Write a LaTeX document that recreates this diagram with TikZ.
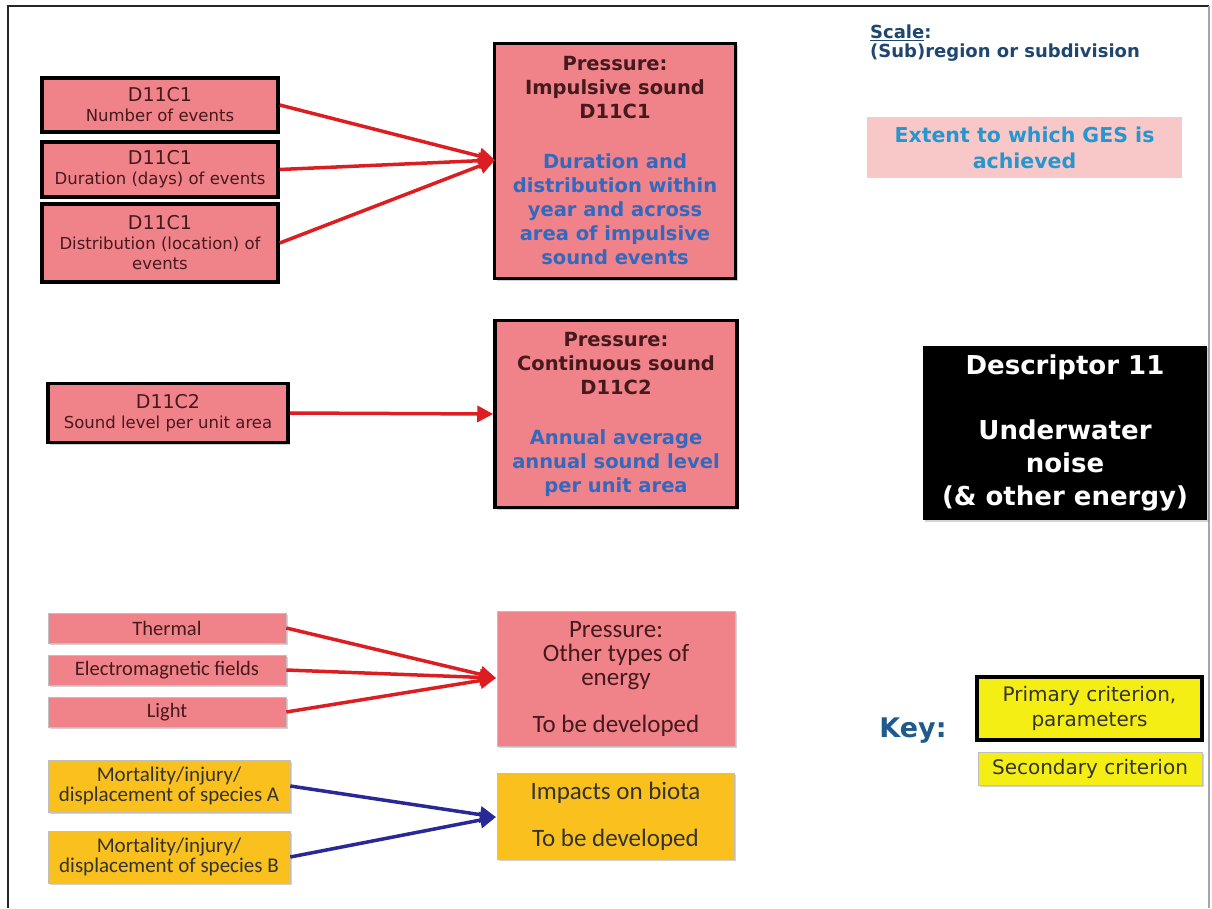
\documentclass[tikz,border=0pt]{standalone}
\usepackage{fontspec}
\setmainfont{DejaVu Sans}
\newfontfamily\cond{Carlito}
\usetikzlibrary{arrows.meta,shadows}
\definecolor{pinkfill}{RGB}{240,130,138}
\definecolor{gesfill}{RGB}{248,200,200}
\definecolor{orangefill}{RGB}{250,192,30}
\definecolor{keyyellow}{RGB}{245,238,20}
\definecolor{redarrow}{RGB}{220,30,34}
\definecolor{bluearrow}{RGB}{40,40,150}
\definecolor{bluetxt}{RGB}{50,105,190}
\definecolor{gestxt}{RGB}{40,150,205}
\definecolor{scaletxt}{RGB}{30,70,110}
\definecolor{keytxt}{RGB}{30,90,140}
\definecolor{darktxt}{RGB}{70,25,28}
\tikzset{
  shad/.style={drop shadow={opacity=0.35,shadow xshift=2pt,shadow yshift=-2pt}},
  primbox/.style={draw=black,line width=3.5pt,fill=pinkfill,text=darktxt,align=center,inner sep=0pt,shad},
  softbox/.style={draw=black!25,line width=0.6pt,fill=pinkfill,text=darktxt,align=center,inner sep=0pt,shad},
  orbox/.style={draw=black!25,line width=0.6pt,fill=orangefill,text=black!80,align=center,inner sep=0pt,shad},
  redarr/.style={draw=redarrow,line width=3.5pt,-{Triangle[length=16pt,width=16pt]}},
  bluearr/.style={draw=bluearrow,line width=3.5pt,-{Triangle[length=16pt,width=16pt]}},
}
\begin{document}
\begin{tikzpicture}[x=1pt,y=-1pt]
\useasboundingbox (0,0) rectangle (1212,908);
% frame
\draw[line width=2pt,black!85] (8,908) -- (8,6) -- (1209,6);
\draw[line width=1.5pt,black!35] (1209,6) -- (1209,908);

% top group
\node[primbox,minimum width=236,minimum height=54,font=\fontsize{19}{20}\selectfont] (a1) at (160,105)
  {D11C1\\{\fontsize{16.5}{18}\selectfont Number of events}};
\node[primbox,minimum width=236,minimum height=55,font=\fontsize{19}{20}\selectfont] (a2) at (160,169.5)
  {D11C1\\{\fontsize{16.5}{18}\selectfont Duration (days) of events}};
\node[primbox,minimum width=236,minimum height=78,font=\fontsize{19}{20}\selectfont] (a3) at (160,243)
  {D11C1\\{\fontsize{16.5}{20}\selectfont Distribution (location) of}\\{\fontsize{16.5}{20}\selectfont events}};
\node[primbox,minimum width=241,minimum height=235,font=\bfseries\fontsize{19.5}{24}\selectfont] (p1) at (615,161)
  {Pressure:\\Impulsive sound\\D11C1\\[26pt]
   \textcolor{bluetxt}{Duration and}\\\textcolor{bluetxt}{distribution within}\\\textcolor{bluetxt}{year and across}\\\textcolor{bluetxt}{area of impulsive}\\\textcolor{bluetxt}{sound events}};
\coordinate (t1) at (495,160);
\draw[redarr] (a1.east) -- (t1);
\draw[redarr] (a2.east) -- (t1);
\draw[redarr] (a3.east) -- (t1);

% middle group
\node[primbox,minimum width=240,minimum height=59,font=\fontsize{19}{20}\selectfont] (b1) at (168,413)
  {D11C2\\{\fontsize{16.5}{18}\selectfont Sound level per unit area}};
\node[primbox,minimum width=242,minimum height=187,font=\bfseries\fontsize{19.5}{24}\selectfont] (p2) at (616,414)
  {Pressure:\\Continuous sound\\D11C2\\[26pt]
   \textcolor{bluetxt}{Annual average}\\\textcolor{bluetxt}{annual sound level}\\\textcolor{bluetxt}{per unit area}};
\draw[redarr] (b1.east) -- (p2.west);

% bottom group
\node[softbox,minimum width=238,minimum height=30,font=\cond\fontsize{20.5}{20}\selectfont] (c1) at (167,628) {Thermal};
\node[softbox,minimum width=238,minimum height=30,font=\cond\fontsize{20.5}{20}\selectfont] (c2) at (167,670) {Electromagnetic fields};
\node[softbox,minimum width=238,minimum height=30,font=\cond\fontsize{20.5}{20}\selectfont] (c3) at (167,712) {Light};
\node[softbox,minimum width=238,minimum height=135,font=\cond\fontsize{25}{24}\selectfont] (p3) at (616,678.5)
  {Pressure:\\Other types of\\energy\\[23pt]To be developed};
\coordinate (t3) at (496,678);
\draw[redarr] (c1.east) -- (t3);
\draw[redarr] (c2.east) -- (t3);
\draw[redarr] (c3.east) -- (t3);

\node[orbox,minimum width=242,minimum height=52,font=\cond\fontsize{21}{20}\selectfont] (m1) at (169,786)
  {Mortality/injury/\\displacement of species A};
\node[orbox,minimum width=242,minimum height=52,font=\cond\fontsize{21}{20}\selectfont] (m2) at (169,857)
  {Mortality/injury/\\displacement of species B};
\node[orbox,minimum width=237,minimum height=86,font=\cond\fontsize{25}{24}\selectfont] (p4) at (615.5,816)
  {Impacts on biota\\[23pt]To be developed};
\coordinate (t4) at (496,817);
\draw[bluearr] (m1.east) -- (t4);
\draw[bluearr] (m2.east) -- (t4);

% right column
\node[anchor=north west,align=left,text=scaletxt,font=\bfseries\fontsize{18}{19}\selectfont,inner sep=0pt] (scale) at (870,25)
  {\underline{Scale}:\\(Sub)region or subdivision};
\node[fill=gesfill,minimum width=315,minimum height=61,align=center,text=gestxt,font=\bfseries\fontsize{20.5}{26}\selectfont,inner sep=0pt] (ges) at (1024.5,147.5)
  {Extent to which GES is\\achieved};
\node[fill=black,minimum width=284,minimum height=174,align=center,text=white,font=\bfseries\fontsize{26}{33}\selectfont,inner sep=0pt,shad] (desc) at (1065,433)
  {Descriptor 11\\[32pt]Underwater\\noise\\(\& other energy)};
\node[text=keytxt,font=\bfseries\fontsize{27}{28}\selectfont,inner sep=0pt] (key) at (913,731) {Key:};
\node[draw=black,line width=3.5pt,fill=keyyellow,minimum width=225,minimum height=63,align=center,text=black!80,font=\fontsize{20}{25}\selectfont,inner sep=0pt] (k1) at (1089.5,708.5)
  {Primary criterion,\\parameters};
\node[draw=black!25,line width=0.6pt,fill=keyyellow,minimum width=224,minimum height=33,align=center,text=black!80,font=\fontsize{20}{20}\selectfont,inner sep=0pt,shad] (k2) at (1090,768.5)
  {Secondary criterion};
\end{tikzpicture}
\end{document}
